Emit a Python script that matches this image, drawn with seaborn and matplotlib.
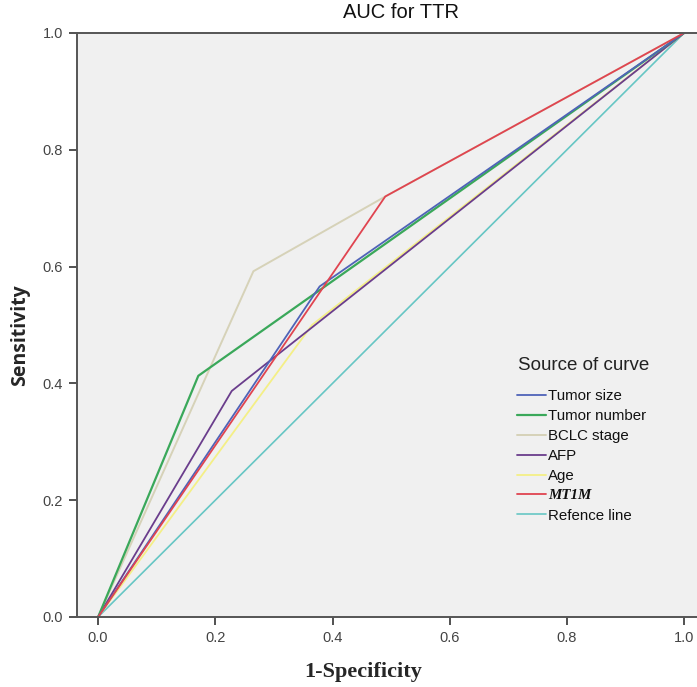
import numpy as np
import pandas as pd
import matplotlib.pyplot as plt
import seaborn as sns

# ROC curve vertices (1-specificity, sensitivity)
tumor_size_x = [0.0, 0.378, 1.0]
tumor_size_y = [0.0, 0.566, 1.0]
tumor_number_x = [0.0, 0.171, 1.0]
tumor_number_y = [0.0, 0.413, 1.0]
bclc_x = [0.0, 0.265, 0.49, 1.0]
bclc_y = [0.0, 0.592, 0.72, 1.0]
afp_x = [0.0, 0.228, 1.0]
afp_y = [0.0, 0.387, 1.0]
age_x = [0.0, 0.365, 1.0]
age_y = [0.0, 0.50, 1.0]
mt1m_x = [0.0, 0.49, 1.0]
mt1m_y = [0.0, 0.72, 1.0]
ref_x = [0.0, 1.0]
ref_y = [0.0, 1.0]

labels = ['Tumor size', 'Tumor number', 'BCLC stage', 'AFP', 'Age', 'MT1M', 'Refence line']
colors = ['#4f63b8', '#3aa85a', '#d6d2b8', '#6a3d8c', '#f4ef86', '#e04450', '#66c6c4']
widths = [1.3, 1.6, 1.4, 1.3, 1.3, 1.3, 1.2]
xs = [tumor_size_x, tumor_number_x, bclc_x, afp_x, age_x, mt1m_x, ref_x]
ys = [tumor_size_y, tumor_number_y, bclc_y, afp_y, age_y, mt1m_y, ref_y]
ticks = [0.0, 0.2, 0.4, 0.6, 0.8, 1.0]
tick_labels = ['0.0', '0.2', '0.4', '0.6', '0.8', '1.0']

sns.set_style('ticks')
plt.rcParams['font.family'] = ['Liberation Sans', 'DejaVu Sans']

fig = plt.figure(figsize=(6.97, 6.87), dpi=100)
ax = fig.add_axes([0.1105, 0.1019, 0.8895, 0.8501])
ax.set_facecolor('#f0f0f0')

# draw order: reference first, MT1M on top
order = [6, 4, 2, 3, 1, 0, 5]
handles = {}
for i in order:
    df = pd.DataFrame({'x': xs[i], 'y': ys[i]})
    sns.lineplot(data=df, x='x', y='y', ax=ax, color=colors[i], linewidth=widths[i],
                 sort=False, estimator=None)
    handles[i] = ax.lines[-1]

ax.set_xlim(-0.036, 1.022)
ax.set_ylim(0.0, 1.0)
ax.set_xticks(ticks)
ax.set_yticks(ticks)
ax.set_xticklabels(tick_labels)
ax.set_yticklabels(tick_labels)
ax.tick_params(axis='both', direction='out', length=6, width=1.2, color='#333333',
               labelsize=10.5, labelcolor='#444444', pad=4)
for side in ['left', 'bottom', 'top']:
    ax.spines[side].set_color('#555555')
    ax.spines[side].set_linewidth(1.4)
ax.spines['right'].set_visible(False)

ax.set_xlabel('')
ax.set_ylabel('')
fig.text(0.521, 1 - 672 / 687, '1-Specificity', ha='center', va='center', fontsize=16,
         fontweight='bold', family='Liberation Serif')
fig.text(0.029, 1 - 335 / 687, 'Sensitivity', ha='center', va='center', fontsize=14,
         fontweight='bold', rotation=90, family='Open Sans')
fig.text(0.575, 0.982, 'AUC for TTR', ha='center', va='center', fontsize=14.5,
         color='#111111')

# legend title drawn separately so the gap above the entries matches
fig.text(518 / 697, 1 - 365 / 687, 'Source of curve', ha='left', va='center',
         fontsize=13.5, color='#222222')
leg = ax.legend([handles[i] for i in range(7)], labels, loc='upper left',
                bbox_to_anchor=(517 / 697, 1 - 389 / 687), bbox_transform=fig.transFigure,
                frameon=False, fontsize=10.8, handlelength=1.9, handletextpad=0.15,
                labelspacing=0.4, borderpad=0.0, borderaxespad=0.0)
for t in leg.get_texts():
    t.set_color('#111111')
mt = leg.get_texts()[5]
mt.set_family('Liberation Serif')
mt.set_fontweight('bold')
mt.set_fontstyle('italic')

fig.savefig('out.png', dpi=100, facecolor='white')
